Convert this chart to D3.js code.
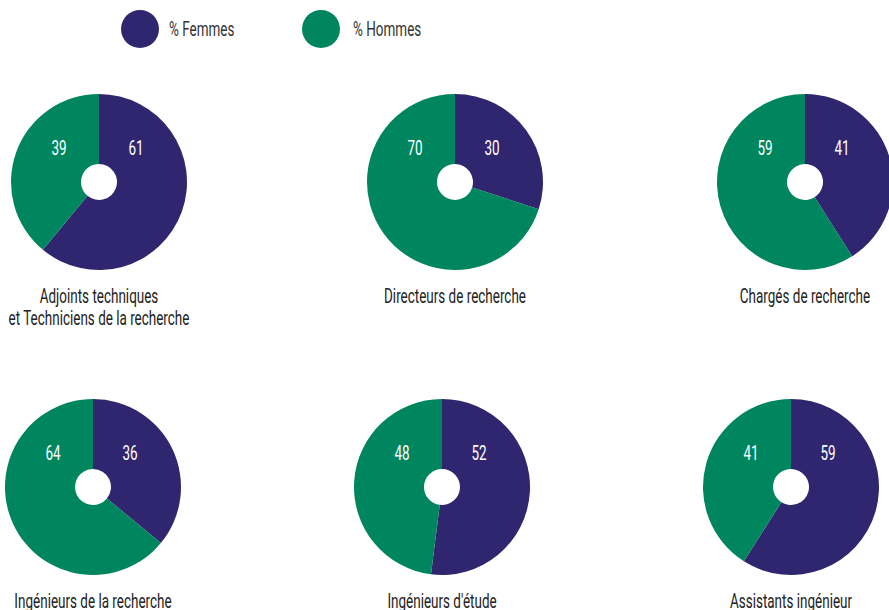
<!DOCTYPE html>
<html><head><meta charset="utf-8">
<script src="https://cdn.jsdelivr.net/npm/d3@7"></script>
<style>body{margin:0;background:#fff}svg{display:block}text{font-family:Roboto,"DejaVu Sans Condensed",sans-serif;font-weight:400}</style>
</head><body><svg id="c" width="889" height="610"></svg>
<script>
const categories = [["Adjoints techniques","et Techniciens de la recherche"],["Directeurs de recherche"],["Chargés de recherche"],["Ingénieurs de la recherche"],["Ingénieurs d'étude"],["Assistants ingénieur"]];
const femmes = [61, 30, 41, 36, 52, 59];
const hommes = [39, 70, 59, 64, 48, 41];
const seriesNames = ["% Femmes", "% Hommes"];
const colors = ["#30266f", "#00865f"];

const svg = d3.select("#c");
const centers = [[99,182],[455,182],[805,182],[93,487],[442,487],[791,487]];
const R = 88, r0 = 18;
const FS = 20;
const pie = d3.pie().sort(null).value(d => d);
const arc = d3.arc().innerRadius(r0).outerRadius(R);

// horizontal compression to mimic a condensed face
const probe = svg.append("text").attr("font-size",FS).text("Directeurs de recherche");
const SX = 142 / probe.node().getComputedTextLength();
probe.remove();

function txt(parent, x, y, s, fill, anchor){
  return parent.append("text")
    .attr("transform",`translate(${x},${y}) scale(${SX},1)`)
    .attr("text-anchor",anchor)
    .attr("font-size",FS).attr("fill",fill).text(s);
}

// legend
const leg = [[140,29,169],[321,29,353]];
seriesNames.forEach((n,i)=>{
  svg.append("circle").attr("cx",leg[i][0]).attr("cy",leg[i][1]).attr("r",19).attr("fill",colors[i]);
  txt(svg, leg[i][2], leg[i][1]+7, n, "#333", "start");
});

categories.forEach((cat,i)=>{
  const [cx,cy] = centers[i];
  const g = svg.append("g").attr("transform",`translate(${cx},${cy})`);
  const vals = [femmes[i], hommes[i]];
  g.selectAll("path").data(pie(vals)).join("path").attr("d",arc).attr("fill",(d,j)=>colors[j]);
  txt(g, 37, -27, vals[0], "#fff", "middle");
  txt(g, -40, -27, vals[1], "#fff", "middle");
  cat.forEach((line,k)=>{
    txt(g, 0, R+33+k*22, line, "#222", "middle");
  });
});
</script></body></html>
